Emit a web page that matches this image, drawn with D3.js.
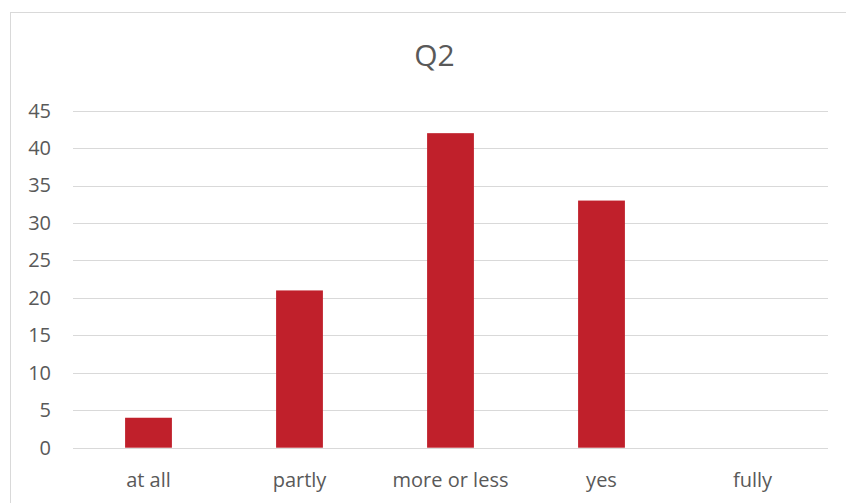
<!DOCTYPE html>
<html>
<head>
<meta charset="utf-8">
<script src="https://cdn.jsdelivr.net/npm/d3@7"></script>
<style>
  html, body { margin: 0; padding: 0; background: #fff; }
  svg { display: block; }
  text { font-family: "Open Sans", "Noto Sans", sans-serif; fill: #595959; }
</style>
</head>
<body>
<svg id="chart" width="846" height="503"></svg>
<script>
// Survey responses for question Q2
const title = "Q2";
const categories = ["at all", "partly", "more or less", "yes", "fully"];
const counts = [4, 21, 42, 33, 0];
const yTicks = [0, 5, 10, 15, 20, 25, 30, 35, 40, 45];

const svg = d3.select("#chart");
const W = 846, H = 503;

// Chart frame
svg.append("rect")
  .attr("x", 10.5).attr("y", 12.5)
  .attr("width", W + 20).attr("height", H + 20)
  .attr("fill", "#fff").attr("stroke", "#d9d9d9").attr("stroke-width", 1);

const plot = { left: 73, right: 828, top: 110.7, bottom: 447.7 };

const x = d3.scaleBand()
  .domain(categories)
  .range([plot.left, plot.right])
  .paddingInner(0.69)
  .paddingOuter(0.345);

const y = d3.scaleLinear()
  .domain([0, 45])
  .range([plot.bottom, plot.top]);

// Horizontal gridlines
svg.append("g")
  .selectAll("line")
  .data(yTicks)
  .join("line")
  .attr("x1", plot.left).attr("x2", plot.right)
  .attr("y1", d => Math.round(y(d)) + 0.5)
  .attr("y2", d => Math.round(y(d)) + 0.5)
  .attr("stroke", "#d9d9d9").attr("stroke-width", 1);

// Bars
svg.append("g")
  .selectAll("rect")
  .data(categories.map((c, i) => ({ c, v: counts[i] })))
  .join("rect")
  .attr("x", d => x(d.c))
  .attr("width", x.bandwidth())
  .attr("y", d => y(d.v))
  .attr("height", d => y(0) - y(d.v))
  .attr("fill", "#c0202b");

// Y axis labels
const yAxis = d3.axisLeft(y).tickValues(yTicks).tickSize(0).tickPadding(0);
svg.append("g")
  .attr("transform", `translate(${plot.left - 22},0)`)
  .call(yAxis)
  .call(g => g.select(".domain").remove())
  .selectAll("text")
  .attr("font-size", 20)
  .attr("font-family", "'Open Sans', sans-serif")
  .attr("fill", "#595959");

// X axis labels
const xAxis = d3.axisBottom(x).tickSize(0).tickPadding(0);
svg.append("g")
  .attr("transform", `translate(0,${plot.bottom + 25})`)
  .call(xAxis)
  .call(g => g.select(".domain").remove())
  .selectAll("text")
  .attr("font-size", 20)
  .attr("font-family", "'Open Sans', sans-serif")
  .attr("fill", "#595959");

// Title
svg.append("text")
  .attr("x", (plot.left + plot.right) / 2 - 16)
  .attr("y", 66)
  .attr("text-anchor", "middle")
  .attr("font-size", 30)
  .text(title);
</script>
</body>
</html>
